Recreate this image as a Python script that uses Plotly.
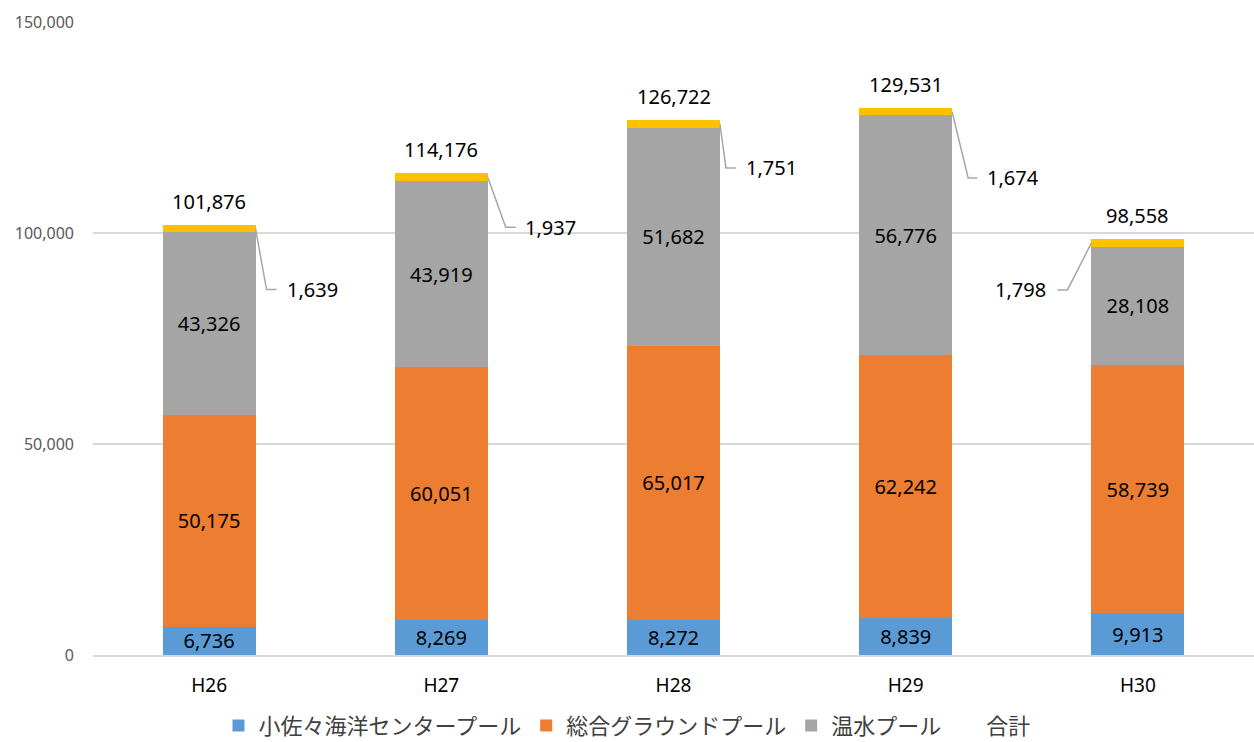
import plotly.graph_objects as go

# Annual pool attendance by facility (H26 - H30)
years = ["H26", "H27", "H28", "H29", "H30"]
kosasa = [6736, 8269, 8272, 8839, 9913]
sogo = [50175, 60051, 65017, 62242, 58739]
onsui = [43326, 43919, 51682, 56776, 28108]
other = [1639, 1937, 1751, 1674, 1798]
totals = [101876, 114176, 126722, 129531, 98558]

series_names = ["小佐々海洋センタープール", "総合グラウンドプール", "温水プール"]
colors = ["#5B9BD5", "#ED7D31", "#A5A5A5", "#FFC000"]

# callout leader geometry for the small top segment, in screen pixels:
# (side of bar, elbow dx, elbow dy, line end dx, label dx)
callouts = [
    (1, 11, -61, 21, 29),
    (1, 18, -50, 28, 35),
    (1, 6, -44, 16, 24),
    (1, 16, -66, 25, 33),
    (-1, -24, -47, -34, -43),
]

xs = list(range(len(years)))
bar_half = 0.2

LABEL_FONT = dict(family="Noto Sans, sans-serif", size=20, color="#000000")


def fmt(v):
    return f"{v:,}"


fig = go.Figure()
for name, vals, col in zip(series_names, [kosasa, sogo, onsui], colors):
    fig.add_trace(go.Bar(
        x=xs, y=vals, name=name, marker=dict(color=col, line=dict(width=0)),
        text=[fmt(v) for v in vals], textposition="inside",
        insidetextanchor="middle", textangle=0, constraintext="none",
        textfont=LABEL_FONT, hoverinfo="skip",
    ))

fig.add_trace(go.Bar(
    x=xs, y=other, name="その他", marker=dict(color=colors[3], line=dict(width=0)),
    showlegend=False, hoverinfo="skip",
))

# total series: invisible line, only present for the legend entry
fig.add_trace(go.Scatter(
    x=xs, y=totals, name="合計", mode="lines",
    line=dict(color="rgba(0,0,0,0)", width=0), hoverinfo="skip",
))

annotations = []
shapes = []
for i, (tot, v) in enumerate(zip(totals, other)):
    annotations.append(dict(
        x=xs[i], y=tot, xref="x", yref="y", text=fmt(tot), showarrow=False,
        yshift=24, yanchor="middle", font=LABEL_FONT,
    ))
    side, ex, ey, lx, tx = callouts[i]
    anchor_x = xs[i] + side * bar_half
    anchor_y = tot - v / 2
    shapes.append(dict(
        type="path", xref="x", yref="y", xsizemode="pixel", ysizemode="pixel",
        xanchor=anchor_x, yanchor=anchor_y,
        path=f"M0,0 L{ex},{ey} L{lx},{ey}",
        line=dict(color="#A6A6A6", width=1.5),
    ))
    annotations.append(dict(
        x=anchor_x, y=anchor_y, xref="x", yref="y", text=fmt(v),
        showarrow=False, xshift=tx, yshift=ey,
        xanchor="left" if side > 0 else "right", yanchor="middle",
        font=LABEL_FONT,
    ))

fig.update_layout(
    barmode="stack",
    bargap=0.6,
    width=1254, height=742,
    margin=dict(l=93, r=0, t=22, b=87),
    paper_bgcolor="white", plot_bgcolor="white",
    showlegend=True,
    legend=dict(
        orientation="h", xref="container", yref="container",
        x=0.5, xanchor="center", y=0.022, yanchor="middle",
        font=dict(family="Noto Sans CJK JP", size=22, color="#404040"),
        itemwidth=30, tracegroupgap=0, traceorder="normal",
        bgcolor="rgba(0,0,0,0)",
    ),
    annotations=annotations,
    shapes=shapes,
    xaxis=dict(
        tickvals=xs, ticktext=years, range=[-0.5, len(years) - 0.5],
        showgrid=False, zeroline=False, showline=True,
        linecolor="#D9D9D9", linewidth=1.5, ticks="",
        ticklabelstandoff=12,
        tickfont=dict(family="Noto Sans, sans-serif", size=19, color="#000000"),
    ),
    yaxis=dict(
        range=[0, 150000], tickvals=[0, 50000, 100000, 150000],
        ticktext=["0", "50,000", "100,000", "150,000"],
        showgrid=True, gridcolor="#D9D9D9", gridwidth=1.5,
        zeroline=False, showline=False, ticks="",
        ticklabelstandoff=18,
        tickfont=dict(family="Noto Sans, sans-serif", size=16, color="#595959"),
    ),
)

fig.write_html("out.html")
